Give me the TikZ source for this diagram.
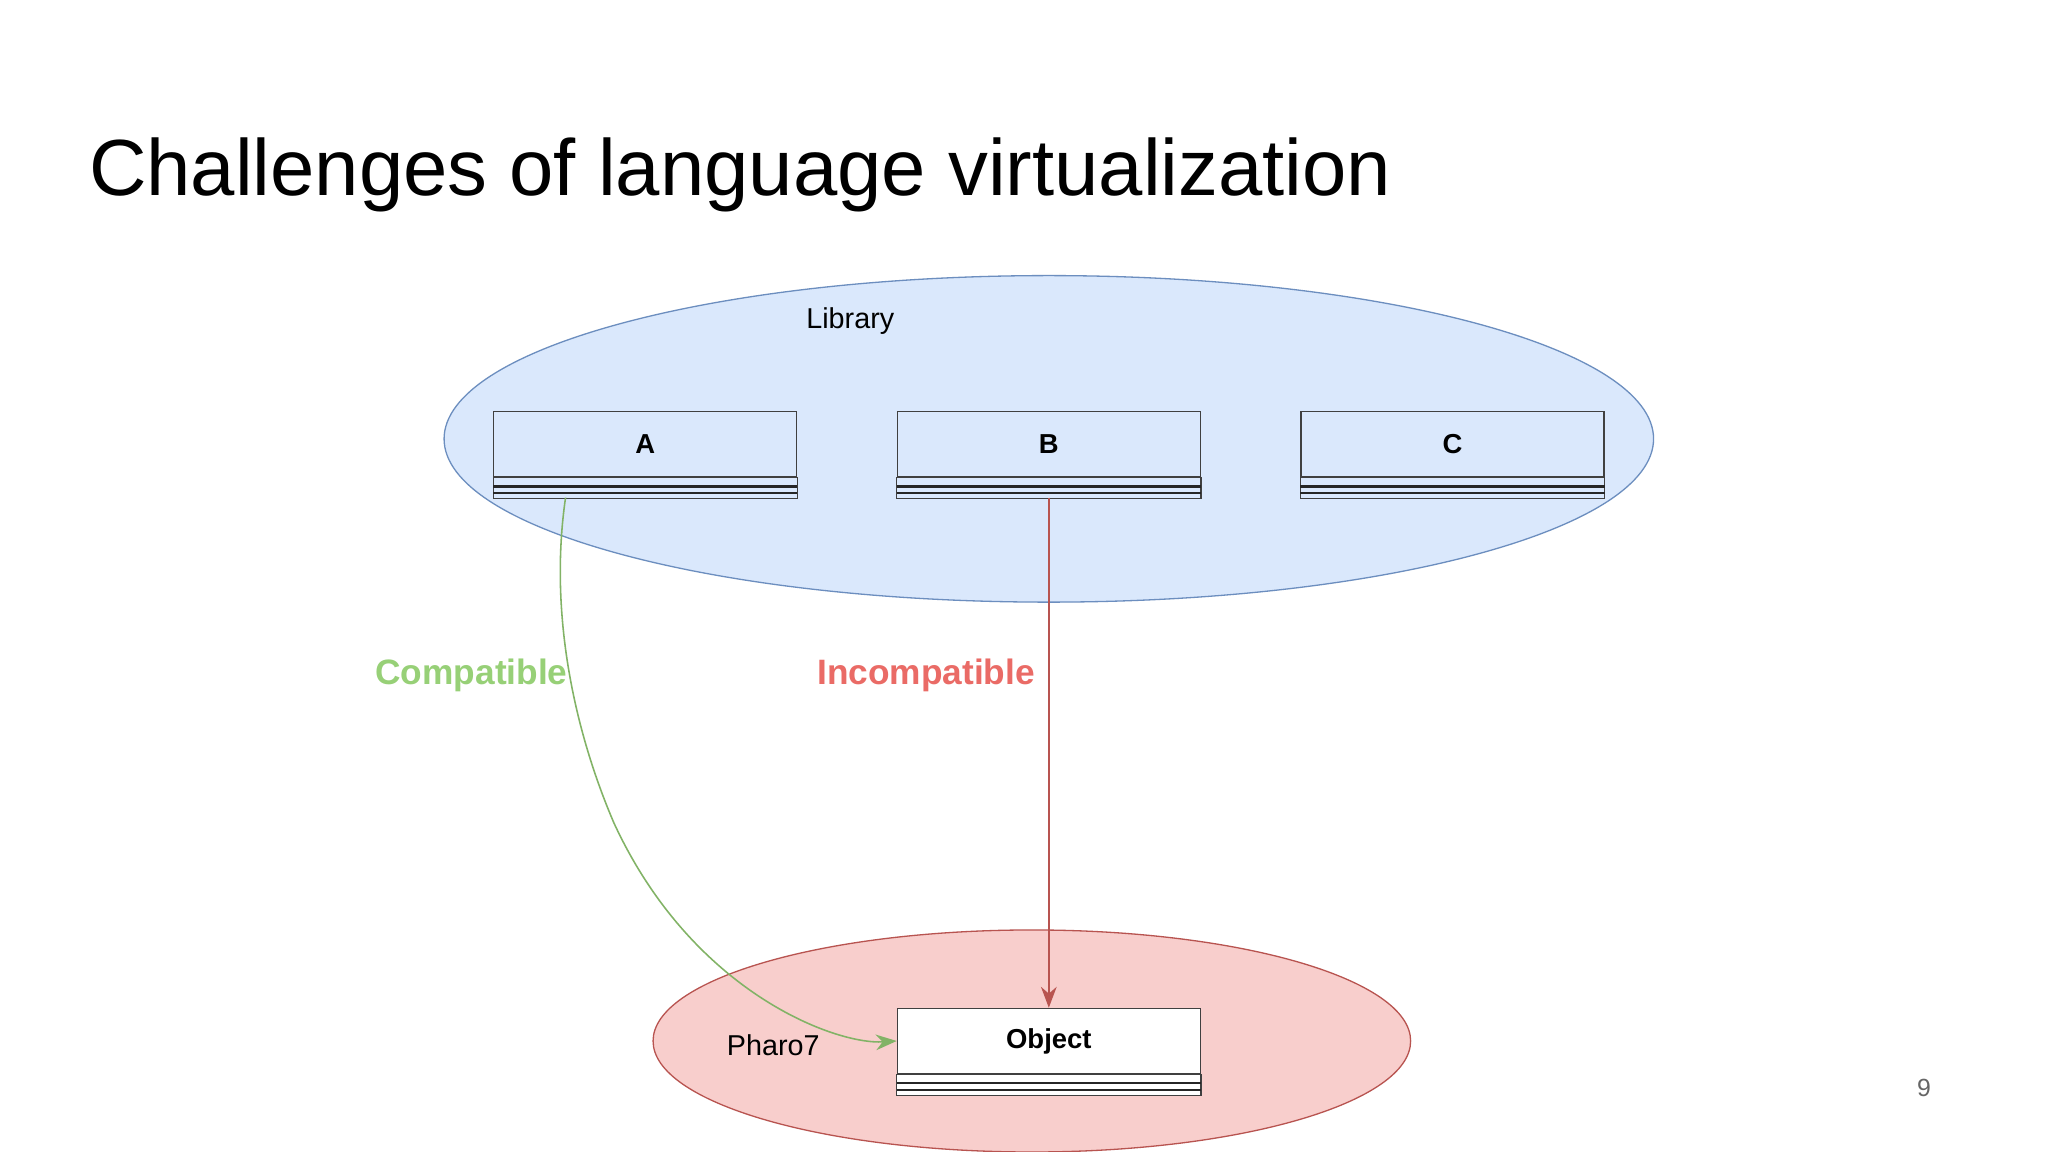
\documentclass[tikz,border=0pt]{standalone}
\usepackage{fontspec}
\setmainfont{Liberation Sans}
\usetikzlibrary{arrows.meta,shapes.geometric}
\definecolor{bfill}{HTML}{DAE8FC}
\definecolor{bline}{HTML}{6C8EBF}
\definecolor{rfill}{HTML}{F8CECC}
\definecolor{rline}{HTML}{B85450}
\definecolor{gline}{HTML}{82B366}
\definecolor{glab}{HTML}{97D077}
\definecolor{rlab}{HTML}{EA6B66}
\tikzset{
 cls/.style={draw=black!75,fill=#1,line width=0.9pt,minimum width=232pt,minimum height=50pt,inner sep=0pt,font=\fontsize{21}{24}\selectfont\bfseries},
 lab/.style={font=\fontsize{27}{30}\selectfont\bfseries},
}
\newcommand{\clsbars}[2]{% node, fill
  \draw[black!75,line width=0.9pt,fill=#2] (#1.south west) rectangle ([yshift=-16pt]#1.south east);
  \draw[black!85,line width=1.6pt] ([yshift=-7pt]#1.south west) -- ([yshift=-7pt]#1.south east);
  \draw[black!85,line width=1.6pt] ([yshift=-12pt]#1.south west) -- ([yshift=-12pt]#1.south east);
}
\begin{document}
\begin{tikzpicture}[x=1pt,y=-1pt]
\useasboundingbox (0,0) rectangle (1568,882);
\fill[white] (0,0) rectangle (1568,882);
\node[anchor=base west,inner sep=0pt,font=\fontsize{61}{70}\selectfont] (title) at (68,150) {Challenges of language virtualization};
\begin{scope}
\clip (0,0) rectangle (1568,882);
\node[draw=bline,fill=bfill,ellipse,minimum width=926pt,minimum height=250pt,line width=1pt,inner sep=0pt] (lib) at (803,336) {};
\node[draw=rline,fill=rfill,ellipse,minimum width=580pt,minimum height=170pt,line width=1pt,inner sep=0pt] (pharo) at (790,797) {};
\end{scope}
\node[font=\fontsize{22}{26}\selectfont] (libl) at (651,246) {Library};
\node[font=\fontsize{22}{26}\selectfont] (phl) at (592,800) {Pharo7};
\node[cls=bfill] (A) at (494,340) {A};
\node[cls=bfill] (B) at (803,340) {B};
\node[cls=bfill] (C) at (1112,340) {C};
\node[cls=white] (O) at (803,797) {Object};
\clsbars{A}{bfill}\clsbars{B}{bfill}\clsbars{C}{bfill}\clsbars{O}{white}
\coordinate (As) at (433,381);
\coordinate (Bs) at (803,381);
\draw[gline,line width=1.2pt,-{Stealth[length=16pt,width=12pt]}] (As) .. controls (420,470) and (440,560) .. (470,630) .. controls (530,760) and (640,800) .. (O.west);
\draw[rline,line width=1.2pt,-{Stealth[length=16pt,width=12pt]}] (Bs) -- (O.north);
\node[lab,text=glab] (cl) at (361,517) {Compatible};
\node[lab,text=rlab] (il) at (709,517) {Incompatible};
\node[text=black!60,font=\fontsize{19}{22}\selectfont] (pg) at (1473,833) {9};
\end{tikzpicture}
\end{document}
